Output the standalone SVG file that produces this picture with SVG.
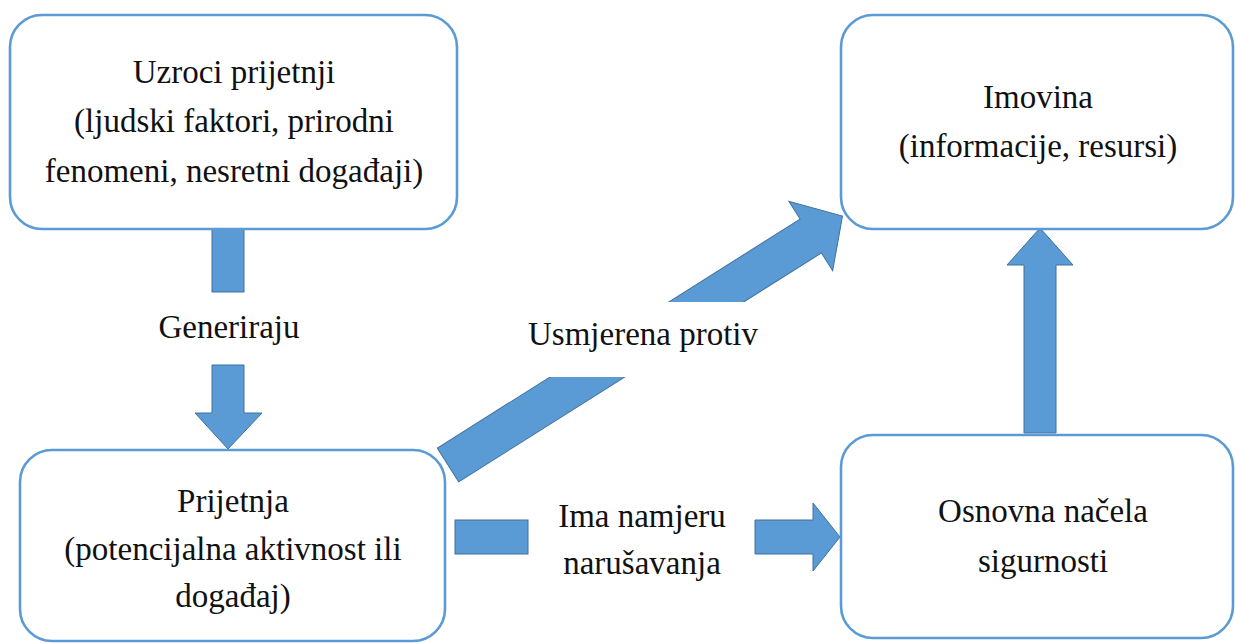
<svg xmlns="http://www.w3.org/2000/svg" width="1235" height="643" viewBox="0 0 1235 643">
  <style>
    .box { fill: #ffffff; stroke: #5b9bd5; stroke-width: 2.6; }
    .arr { fill: #5b9bd5; stroke: #41719c; stroke-width: 1; stroke-linejoin: miter; }
    .t { font-family: 'Liberation Serif', 'Times New Roman', serif; font-size: 33px; fill: #111111; text-anchor: middle; }
    .mask { fill: #ffffff; stroke: none; }
  </style>
  <rect width="1235" height="643" fill="#ffffff"/>

  <g id="connectors">
    <g id="c-generiraju">
      <rect class="arr" x="212" y="229" width="32" height="63"/>
      <polygon class="arr" points="212,365 244,365 244,413 262,413 228,449 195,413 212,413"/>
      <text class="t" x="229" y="338">Generiraju</text>
    </g>
    <g id="c-usmjerena">
      <polygon class="arr" transform="translate(448,465) rotate(-32.26)" points="0,-20 429,-20 429,-41 466.5,0 429,41 429,20 0,20"/>
      <rect class="mask" x="520" y="302" width="270" height="75"/>
      <text class="t" x="643" y="345">Usmjerena protiv</text>
    </g>
    <g id="c-ima">
      <rect class="arr" x="455" y="520" width="73" height="34"/>
      <polygon class="arr" points="755,520 813,520 813,503 840,537 813,571 813,554 755,554"/>
      <text class="t" x="642" y="527">Ima namjeru</text>
      <text class="t" x="642" y="574">narušavanja</text>
    </g>
    <g id="c-up">
      <polygon class="arr" points="1024,433 1056,433 1056,265 1073,265 1040,228 1007,265 1024,265"/>
    </g>
  </g>

  <g id="node-uzroci">
    <rect class="box" x="10" y="15" width="447" height="214" rx="32" ry="32"/>
    <text class="t" x="234" y="83">Uzroci prijetnji</text>
    <text class="t" x="234" y="132">(ljudski faktori, prirodni</text>
    <text class="t" x="234" y="182">fenomeni, nesretni događaji)</text>
  </g>

  <g id="node-imovina">
    <rect class="box" x="841" y="15" width="392" height="214" rx="32" ry="32"/>
    <text class="t" x="1038" y="108">Imovina</text>
    <text class="t" x="1038" y="157">(informacije, resursi)</text>
  </g>

  <g id="node-prijetnja">
    <rect class="box" x="20" y="450" width="425" height="191" rx="32" ry="32"/>
    <text class="t" x="233" y="512">Prijetnja</text>
    <text class="t" x="233" y="560">(potencijalna aktivnost ili</text>
    <text class="t" x="233" y="607">događaj)</text>
  </g>

  <g id="node-osnovna">
    <rect class="box" x="841" y="435" width="392" height="203" rx="32" ry="32"/>
    <text class="t" x="1043" y="522">Osnovna načela</text>
    <text class="t" x="1043" y="572">sigurnosti</text>
  </g>
</svg>
